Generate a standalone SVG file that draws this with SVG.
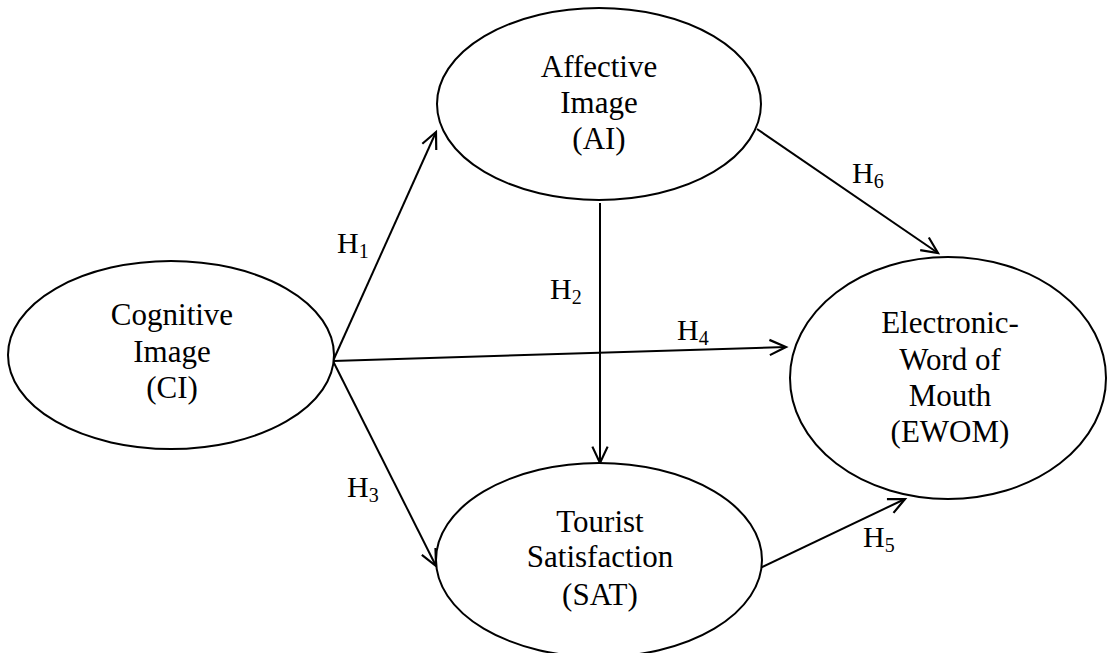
<svg xmlns="http://www.w3.org/2000/svg" width="1110" height="653" viewBox="0 0 1110 653">
<defs>
<marker id="arr" markerUnits="userSpaceOnUse" markerWidth="24" markerHeight="24" viewBox="-18 -10 22 20" refX="0" refY="0" orient="auto">
<path d="M-15,-7 L0,0 L-15,7" fill="none" stroke="#000" stroke-width="2"/>
</marker>
</defs>
<style>
.node{fill:#fff;stroke:#000;stroke-width:2}
.lbl{font-family:"Liberation Serif","Times New Roman",serif;font-size:31px;fill:#000;text-anchor:middle}
.h{font-family:"Liberation Serif","Times New Roman",serif;font-size:30px;fill:#000}
.sub{font-size:20px}
.edge{stroke:#000;stroke-width:2;fill:none;marker-end:url(#arr)}
</style>
<rect width="1110" height="653" fill="#fff"/>
<g id="connectors">
<line class="edge" x1="333" y1="361" x2="436" y2="132"/>
<line class="edge" x1="333" y1="361" x2="786" y2="347"/>
<line class="edge" x1="333" y1="361" x2="436" y2="566"/>
<line class="edge" x1="600" y1="203" x2="600" y2="463"/>
<line class="edge" x1="757" y1="129" x2="938" y2="253"/>
<line class="edge" x1="760" y1="568" x2="905" y2="499"/>
<text class="h" x="337" y="253">H<tspan class="sub" dy="5">1</tspan></text>
<text class="h" x="550" y="299">H<tspan class="sub" dy="5">2</tspan></text>
<text class="h" x="347" y="497">H<tspan class="sub" dy="5">3</tspan></text>
<text class="h" x="677" y="340">H<tspan class="sub" dy="5">4</tspan></text>
<text class="h" x="863" y="547">H<tspan class="sub" dy="5">5</tspan></text>
<text class="h" x="852" y="183">H<tspan class="sub" dy="5">6</tspan></text>
</g>
<g id="ai">
<ellipse class="node" cx="599" cy="104" rx="162" ry="96"/>
<text class="lbl" x="599" y="77">Affective</text>
<text class="lbl" x="599" y="113">Image</text>
<text class="lbl" x="599" y="149">(AI)</text>
</g>
<g id="ci">
<ellipse class="node" cx="171" cy="355" rx="163" ry="94"/>
<text class="lbl" x="172" y="325">Cognitive</text>
<text class="lbl" x="172" y="362">Image</text>
<text class="lbl" x="172" y="398">(CI)</text>
</g>
<g id="sat">
<ellipse class="node" cx="599" cy="560" rx="163" ry="97"/>
<text class="lbl" x="600" y="532">Tourist</text>
<text class="lbl" x="600" y="567">Satisfaction</text>
<text class="lbl" x="600" y="605">(SAT)</text>
</g>
<g id="ewom">
<ellipse class="node" cx="948" cy="378" rx="158" ry="121"/>
<text class="lbl" x="950" y="333">Electronic-</text>
<text class="lbl" x="950" y="370">Word of</text>
<text class="lbl" x="950" y="406">Mouth</text>
<text class="lbl" x="950" y="442">(EWOM)</text>
</g>
</svg>
